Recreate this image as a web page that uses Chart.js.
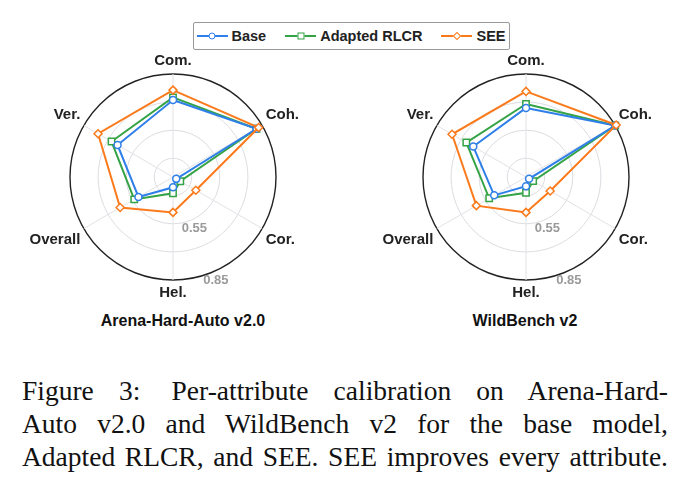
<!DOCTYPE html>
<html>
<head>
<meta charset="utf-8">
<script src="https://cdn.jsdelivr.net/npm/chart.js@4.4.1/dist/chart.umd.min.js"></script>
<style>
  body { margin: 0; width: 692px; height: 490px; overflow: hidden; background: #fff; position: relative; font-family: "Liberation Sans", Arial, sans-serif; }
  canvas { position: absolute; top: 52px; }
  #legend { position: absolute; left: 193px; top: 22px; width: 317px; height: 28px; box-sizing: border-box;
    border: 1.5px solid #9a9a9a; border-radius: 2px; display: flex; align-items: center; padding-left: 2.5px;
    font: bold 14.5px "Liberation Sans", Arial, sans-serif; color: #222; white-space: nowrap; }
  .key { flex: none; position: relative; width: 31px; height: 2px; margin-right: 4px; }
  .key i { position: absolute; left: 50%; top: 50%; width: 5px; height: 5px; background: #fff; border: 1.5px solid; transform: translate(-50%, -50%); }
  .key.circle i { border-radius: 50%; }
  .key.diamond i { width: 4px; height: 4px; transform: translate(-50%, -50%) rotate(45deg); }
  .lab { flex: none; margin-right: 19px; }
  .title { position: absolute; top: 312px; width: 240px; text-align: center; font: bold 16px "Liberation Sans", Arial, sans-serif; color: #111; }
  .cap { position: absolute; left: 22px; width: 646px; font: 27.5px "Liberation Serif", "Times New Roman", serif; color: #111;
    text-align: justify; text-align-last: justify; white-space: nowrap; line-height: 33px; }
</style>
</head>
<body>
<div id="legend"></div>
<canvas id="arena" width="346" height="250" style="left:0px"></canvas>
<canvas id="wild" width="340" height="250" style="left:356px"></canvas>
<div class="title" style="left:63px">Arena-Hard-Auto v2.0</div>
<div class="title" style="left:405px">WildBench v2</div>
<div class="cap" style="top:374px">Figure 3:<span style="margin-left:6px"></span> Per-attribute calibration on Arena-Hard-</div>
<div class="cap" style="top:407px">Auto v2.0 and WildBench v2 for the base model,</div>
<div class="cap" style="top:440px">Adapted RLCR, and SEE. SEE improves every attribute.</div>
<script>
const attributes = ["Com.", "Coh.", "Cor.", "Hel.", "Overall", "Ver."];
const seriesNames = ["Base", "Adapted RLCR", "SEE"];
const colors = ["#2f7fe8", "#34a346", "#fb7a1c"];
const markers = ["circle", "rect", "rectRot"];

// Arena-Hard-Auto v2.0
const arenaBase = [0.711, 0.815, 0.320, 0.355, 0.513, 0.642];
const arenaRlcr = [0.725, 0.815, 0.345, 0.387, 0.539, 0.679];
const arenaSee  = [0.764, 0.828, 0.441, 0.489, 0.626, 0.762];

// WildBench v2
const wildBase = [0.669, 0.850, 0.319, 0.349, 0.496, 0.625];
const wildRlcr = [0.690, 0.850, 0.344, 0.384, 0.527, 0.668];
const wildSee  = [0.757, 0.856, 0.449, 0.489, 0.606, 0.756];

const rMin = 0.3, rMax = 0.85;
const gridValues = [0.4, 0.55, 0.7, 0.85];
const tickLabels = [0.55, 0.85];

// legend
const legend = document.getElementById("legend");
const keyClass = ["circle", "square", "diamond"];
seriesNames.forEach((name, i) => {
  legend.innerHTML += `<span class="key ${keyClass[i]}" style="background:${colors[i]}"><i style="border-color:${colors[i]}"></i></span><span class="lab">${name}</span>`;
});

const tickLabelPlugin = {
  id: "tickLabels",
  afterDraw(chart) {
    const s = chart.scales.r, c = chart.ctx;
    c.save();
    c.font = "bold 13px 'Liberation Sans', Arial, sans-serif";
    c.fillStyle = "#9a9a9a";
    c.textAlign = "center";
    c.textBaseline = "middle";
    tickLabels.forEach(v => {
      const p = s.getPointPosition(2.625, s.getDistanceFromCenterForValue(v) + 9);
      c.fillText(v.toFixed(2), p.x, p.y);
    });
    c.restore();
  }
};

function makeRadar(id, base, rlcr, see) {
  const vals = [base, rlcr, see];
  new Chart(document.getElementById(id), {
    type: "radar",
    data: {
      labels: attributes,
      datasets: seriesNames.map((name, i) => ({
        label: name,
        data: vals[i],
        borderColor: colors[i],
        borderWidth: 2,
        fill: false,
        pointStyle: markers[i],
        pointRadius: [3.5, 4.5, 4][i],
        pointBackgroundColor: "#fff",
        pointBorderColor: colors[i],
        pointBorderWidth: 1.5,
        order: [1, 2, 0][i]
      }))
    },
    options: {
      responsive: false,
      animation: false,
      plugins: { legend: { display: false }, tooltip: { enabled: false } },
      scales: {
        r: {
          min: rMin,
          max: rMax,
          afterBuildTicks: sc => { sc.ticks = [rMin, ...gridValues].map(v => ({ value: v })); },
          ticks: { display: false },
          grid: {
            circular: true,
            color: c => c.tick && c.tick.value >= rMax ? "#222" : "#dcdce2",
            lineWidth: c => c.tick && c.tick.value >= rMax ? 1.4 : 1
          },
          angleLines: { color: "#e2e2e6", lineWidth: 1 },
          pointLabels: {
            padding: 4,
            color: "#222",
            font: { family: "'Liberation Sans', Arial, sans-serif", size: 15, weight: "bold" }
          }
        }
      }
    },
    plugins: [tickLabelPlugin]
  });
}

makeRadar("arena", arenaBase, arenaRlcr, arenaSee);
makeRadar("wild", wildBase, wildRlcr, wildSee);
</script>
</body>
</html>
